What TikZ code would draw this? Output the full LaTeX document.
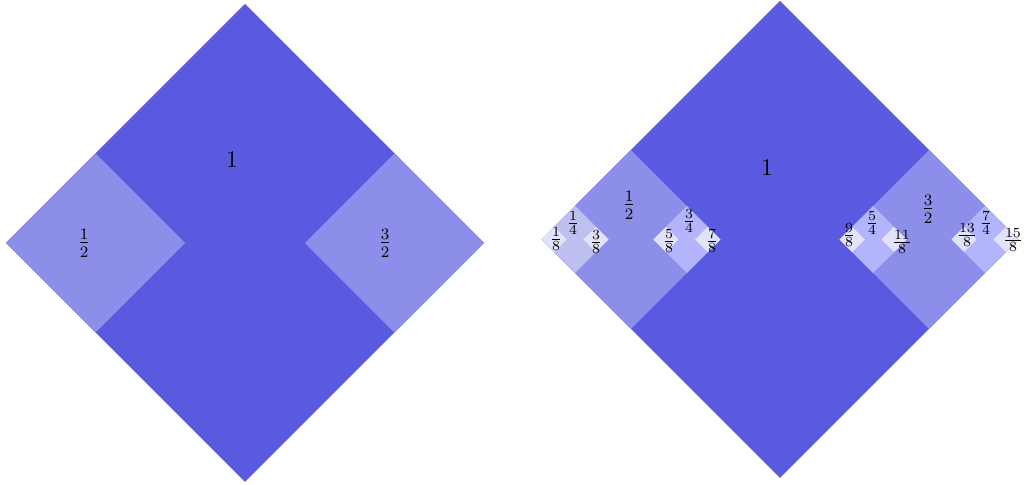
\documentclass[tikz,border=0pt]{standalone}
\usepackage{amsmath}

\definecolor{lvone}{RGB}{90,90,224}
\definecolor{lvtwo}{RGB}{141,141,234}
\definecolor{lvthree}{RGB}{180,180,252}
\definecolor{lvthreeg}{RGB}{192,192,240}
\definecolor{lvfour}{RGB}{226,226,248}

% filled rhombus: colour, centre x, centre y, half diagonal
\newcommand{\rhombus}[4]{\fill[#1] (#2,#3) +(-#4,0) -- +(0,#4) -- +(#4,0) -- +(0,-#4) -- cycle;}

\begin{document}
\begin{tikzpicture}[
  x=0.5pt, y=-0.5pt,
  big/.style={font=\large, inner sep=0pt},
  mid/.style={font=\large, inner sep=0pt},
  small/.style={font=\normalsize, inner sep=0pt},
  tiny/.style={font=\normalsize, inner sep=0pt}
]
\useasboundingbox (0,0) rectangle (1030,485);

% Left: first two levels
\rhombus{lvone}{245}{243}{239}
\rhombus{lvtwo}{95.6}{243}{89.6}
\rhombus{lvtwo}{394.4}{243}{89.6}

\node[big] (Lone) at (232,160) {1};
\node[mid] (Lhalf) at (84,243) {$\frac{1}{2}$};
\node[mid] (Lthreehalf) at (385,243) {$\frac{3}{2}$};

% Right: four levels
\rhombus{lvone}{780}{239.5}{238.5}
\rhombus{lvtwo}{630.9}{239.5}{89.4}
\rhombus{lvtwo}{929.1}{239.5}{89.4}
\rhombus{lvthreeg}{575.0}{239.5}{33.5}
\rhombus{lvthree}{686.8}{239.5}{33.5}
\rhombus{lvthree}{873.2}{239.5}{33.5}
\rhombus{lvthree}{985.0}{239.5}{33.5}
\foreach \cx in {554.1,595.9,665.9,707.7,852.3,894.1,964.1,1005.9}{
  \rhombus{lvfour}{\cx}{239.5}{12.6}
}

\node[big] (Rone) at (767,168) {1};
\node[mid] (Rhalf) at (629,205) {$\frac{1}{2}$};
\node[mid] (Rthreehalf) at (928,209) {$\frac{3}{2}$};
\node[small] (Rqa) at (573,223) {$\frac{1}{4}$};
\node[small] (Rqb) at (689,221) {$\frac{3}{4}$};
\node[small] (Rqc) at (872,223) {$\frac{5}{4}$};
\node[small] (Rqd) at (986,223) {$\frac{7}{4}$};
\node[tiny] (Ra) at (556,239) {$\frac{1}{8}$};
\node[tiny] (Rb) at (596,242) {$\frac{3}{8}$};
\node[tiny] (Rc) at (669,241) {$\frac{5}{8}$};
\node[tiny] (Rd) at (712,241) {$\frac{7}{8}$};
\node[tiny] (Re) at (849,235) {$\frac{9}{8}$};
\node[tiny] (Rf) at (902,242) {$\frac{11}{8}$};
\node[tiny] (Rg) at (967,235) {$\frac{13}{8}$};
\node[tiny] (Rh) at (1013,240) {$\frac{15}{8}$};
\end{tikzpicture}
\end{document}
